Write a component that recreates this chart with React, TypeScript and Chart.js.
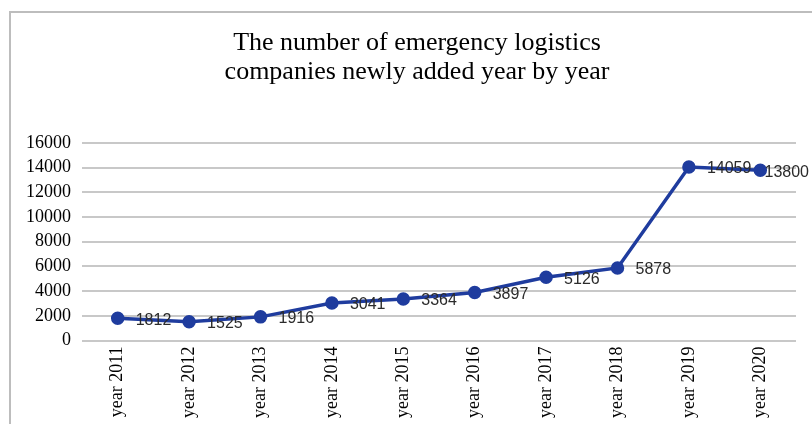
import React, { useEffect, useRef } from "react";
import { Chart, registerables } from "chart.js";

Chart.register(...registerables);

const categories = ["year 2011", "year 2012", "year 2013", "year 2014", "year 2015", "year 2016", "year 2017", "year 2018", "year 2019", "year 2020"];
const companies = [1812, 1525, 1916, 3041, 3364, 3897, 5126, 5878, 14059, 13800];
const titleLines = ["The number of emergency logistics", "companies newly added year by year"];

const LINE_COLOR = "#1f3c9e";
const SERIF = "'Liberation Serif', 'Times New Roman', serif";

const framePlugin = {
  id: "frame",
  beforeDraw(chart: any) {
    const ctx = chart.ctx;
    ctx.save();
    ctx.fillStyle = "#ffffff";
    ctx.fillRect(0, 0, chart.width, chart.height);
    ctx.strokeStyle = "#bdbdbd";
    ctx.lineWidth = 2;
    ctx.beginPath();
    ctx.moveTo(10, chart.height);
    ctx.lineTo(10, 12);
    ctx.lineTo(chart.width, 12);
    ctx.stroke();
    // title, centred in the framed panel
    ctx.fillStyle = "#000000";
    ctx.font = `26px ${SERIF}`;
    ctx.textAlign = "center";
    ctx.textBaseline = "middle";
    titleLines.forEach((line, i) => {
      ctx.fillText(line, 417, 43 + i * 29);
    });
    ctx.restore();
  },
};

const labelPlugin = {
  id: "valueLabels",
  afterDatasetsDraw(chart: any) {
    const ctx = chart.ctx;
    const meta = chart.getDatasetMeta(0);
    const data = chart.data.datasets[0].data;
    ctx.save();
    ctx.font = "16px 'Liberation Sans', Arial, sans-serif";
    ctx.fillStyle = "#2b2b2b";
    ctx.textAlign = "left";
    ctx.textBaseline = "middle";
    meta.data.forEach((pt: any, i: number) => {
      const txt = String(data[i]);
      const w = ctx.measureText(txt).width;
      let x = pt.x + 18;
      if (x + w > chart.width - 3) x = chart.width - 3 - w;
      ctx.fillText(txt, x, pt.y + 2);
    });
    ctx.restore();
  },
};

export default function App() {
  const ref = useRef<HTMLCanvasElement | null>(null);
  useEffect(() => {
    if (!ref.current) return;
    const chart = new Chart(ref.current, {
      type: "line",
      data: {
        labels: categories,
        datasets: [
          {
            data: companies,
            borderColor: LINE_COLOR,
            backgroundColor: LINE_COLOR,
            borderWidth: 3.5,
            pointRadius: 5,
            pointBackgroundColor: LINE_COLOR,
            pointBorderColor: LINE_COLOR,
            tension: 0,
          },
        ],
      },
      options: {
        responsive: false,
        animation: false,
        layout: { padding: { left: 15, right: 16, top: 143, bottom: 0 } },
        plugins: {
          legend: { display: false },
          tooltip: { enabled: false },
          title: { display: false },
        },
        scales: {
          x: {
            offset: true,
            grid: { display: false, drawTicks: false },
            border: { display: false },
            ticks: {
              color: "#000000",
              font: { family: SERIF, size: 18 },
              minRotation: 90,
              maxRotation: 90,
              padding: 6,
              autoSkip: false,
            },
          },
          y: {
            min: 0,
            max: 16000,
            grid: { color: "#c8c8c8", lineWidth: 2, drawTicks: false },
            border: { display: false },
            ticks: {
              stepSize: 2000,
              autoSkip: false,
              color: "#000000",
              font: { family: SERIF, size: 18 },
              padding: 11,
              callback: (v: any) => String(v),
            },
          },
        },
      },
      plugins: [framePlugin, labelPlugin],
    });
    return () => chart.destroy();
  }, []);
  return (
    <div style={{ position: "fixed", left: 0, top: 0, width: 812, height: 424 }}>
      <canvas ref={ref} width={812} height={424} style={{ display: "block" }} />
    </div>
  );
}
